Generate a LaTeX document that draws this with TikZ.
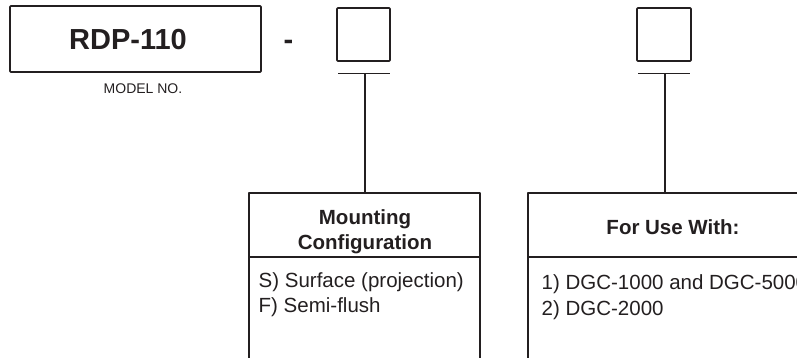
\documentclass[tikz,border=0pt]{standalone}
\usepackage{fontspec}
\setmainfont{Liberation Sans}
\definecolor{ink}{HTML}{231F20}
\begin{document}
\begin{tikzpicture}[x=1pt,y=-1pt,
  ln/.style={draw=ink,line width=1.6pt,line join=round},
  box/.style={ln,rectangle,inner sep=0pt,rounded corners=0.8pt},
  txt/.style={inner sep=0pt,text=ink},
  big/.style={txt,font=\fontsize{29}{34}\selectfont\bfseries},
  small/.style={txt,font=\fontsize{14}{17}\selectfont},
  head/.style={txt,font=\fontsize{20.5}{25}\selectfont\bfseries},
  body/.style={txt,font=\fontsize{20.5}{25}\selectfont}]
\useasboundingbox (0,0) rectangle (797,357);
\clip (0,0) rectangle (797,357);
% model number
\node[box,minimum width=251pt,minimum height=66pt] (rdp) at (135.5,39) {};
\node[big,anchor=base] (rdptext) at (128,49) {RDP-110};
\node[small,anchor=base] (model) at (143,93) {MODEL NO.};
\node[big,anchor=base] (dash) at (288.5,49) {-};
% selection squares
\node[box,minimum width=53pt,minimum height=53pt] (sq1) at (363.5,34.5) {};
\node[box,minimum width=54pt,minimum height=53pt] (sq2) at (664,34.5) {};
\coordinate (u1l) at (338,73.5); \coordinate (u1r) at (390,73.5);
\coordinate (u2l) at (638,73.5); \coordinate (u2r) at (690,73.5);
\coordinate (bar1) at (365,73.5); \coordinate (bar2) at (665,73.5);
\draw[ln] (u1l) -- (u1r);
\draw[ln] (u2l) -- (u2r);
% option boxes
\node[box,rounded corners=0pt,minimum width=231pt,minimum height=64pt] (mhead) at (364.5,225) {};
\node[box,rounded corners=0pt,minimum width=231pt,minimum height=143pt] (mbody) at (364.5,328.5) {};
\node[box,rounded corners=0pt,minimum width=290pt,minimum height=64pt] (rhead) at (673,225) {};
\node[box,rounded corners=0pt,minimum width=290pt,minimum height=143pt] (rbody) at (673,328.5) {};
% connectors
\draw[ln] (bar1) -- (bar1 |- mhead.north);
\draw[ln] (bar2) -- (bar2 |- rhead.north);
% texts
\node[head,anchor=base] (m1) at (365,224) {Mounting};
\node[head,anchor=base] (m2) at (365,249) {Configuration};
\node[head,anchor=base] (r1) at (673,234) {For Use With:};
\node[body,anchor=base west] (s1) at (258.5,287) {S) Surface (projection)};
\node[body,anchor=base west] (s2) at (258.5,312) {F) Semi-flush};
\node[body,anchor=base west] (o1) at (541.5,289) {1) DGC-1000 and DGC-5000};
\node[body,anchor=base west] (o2) at (541.5,315) {2) DGC-2000};
\end{tikzpicture}
\end{document}
